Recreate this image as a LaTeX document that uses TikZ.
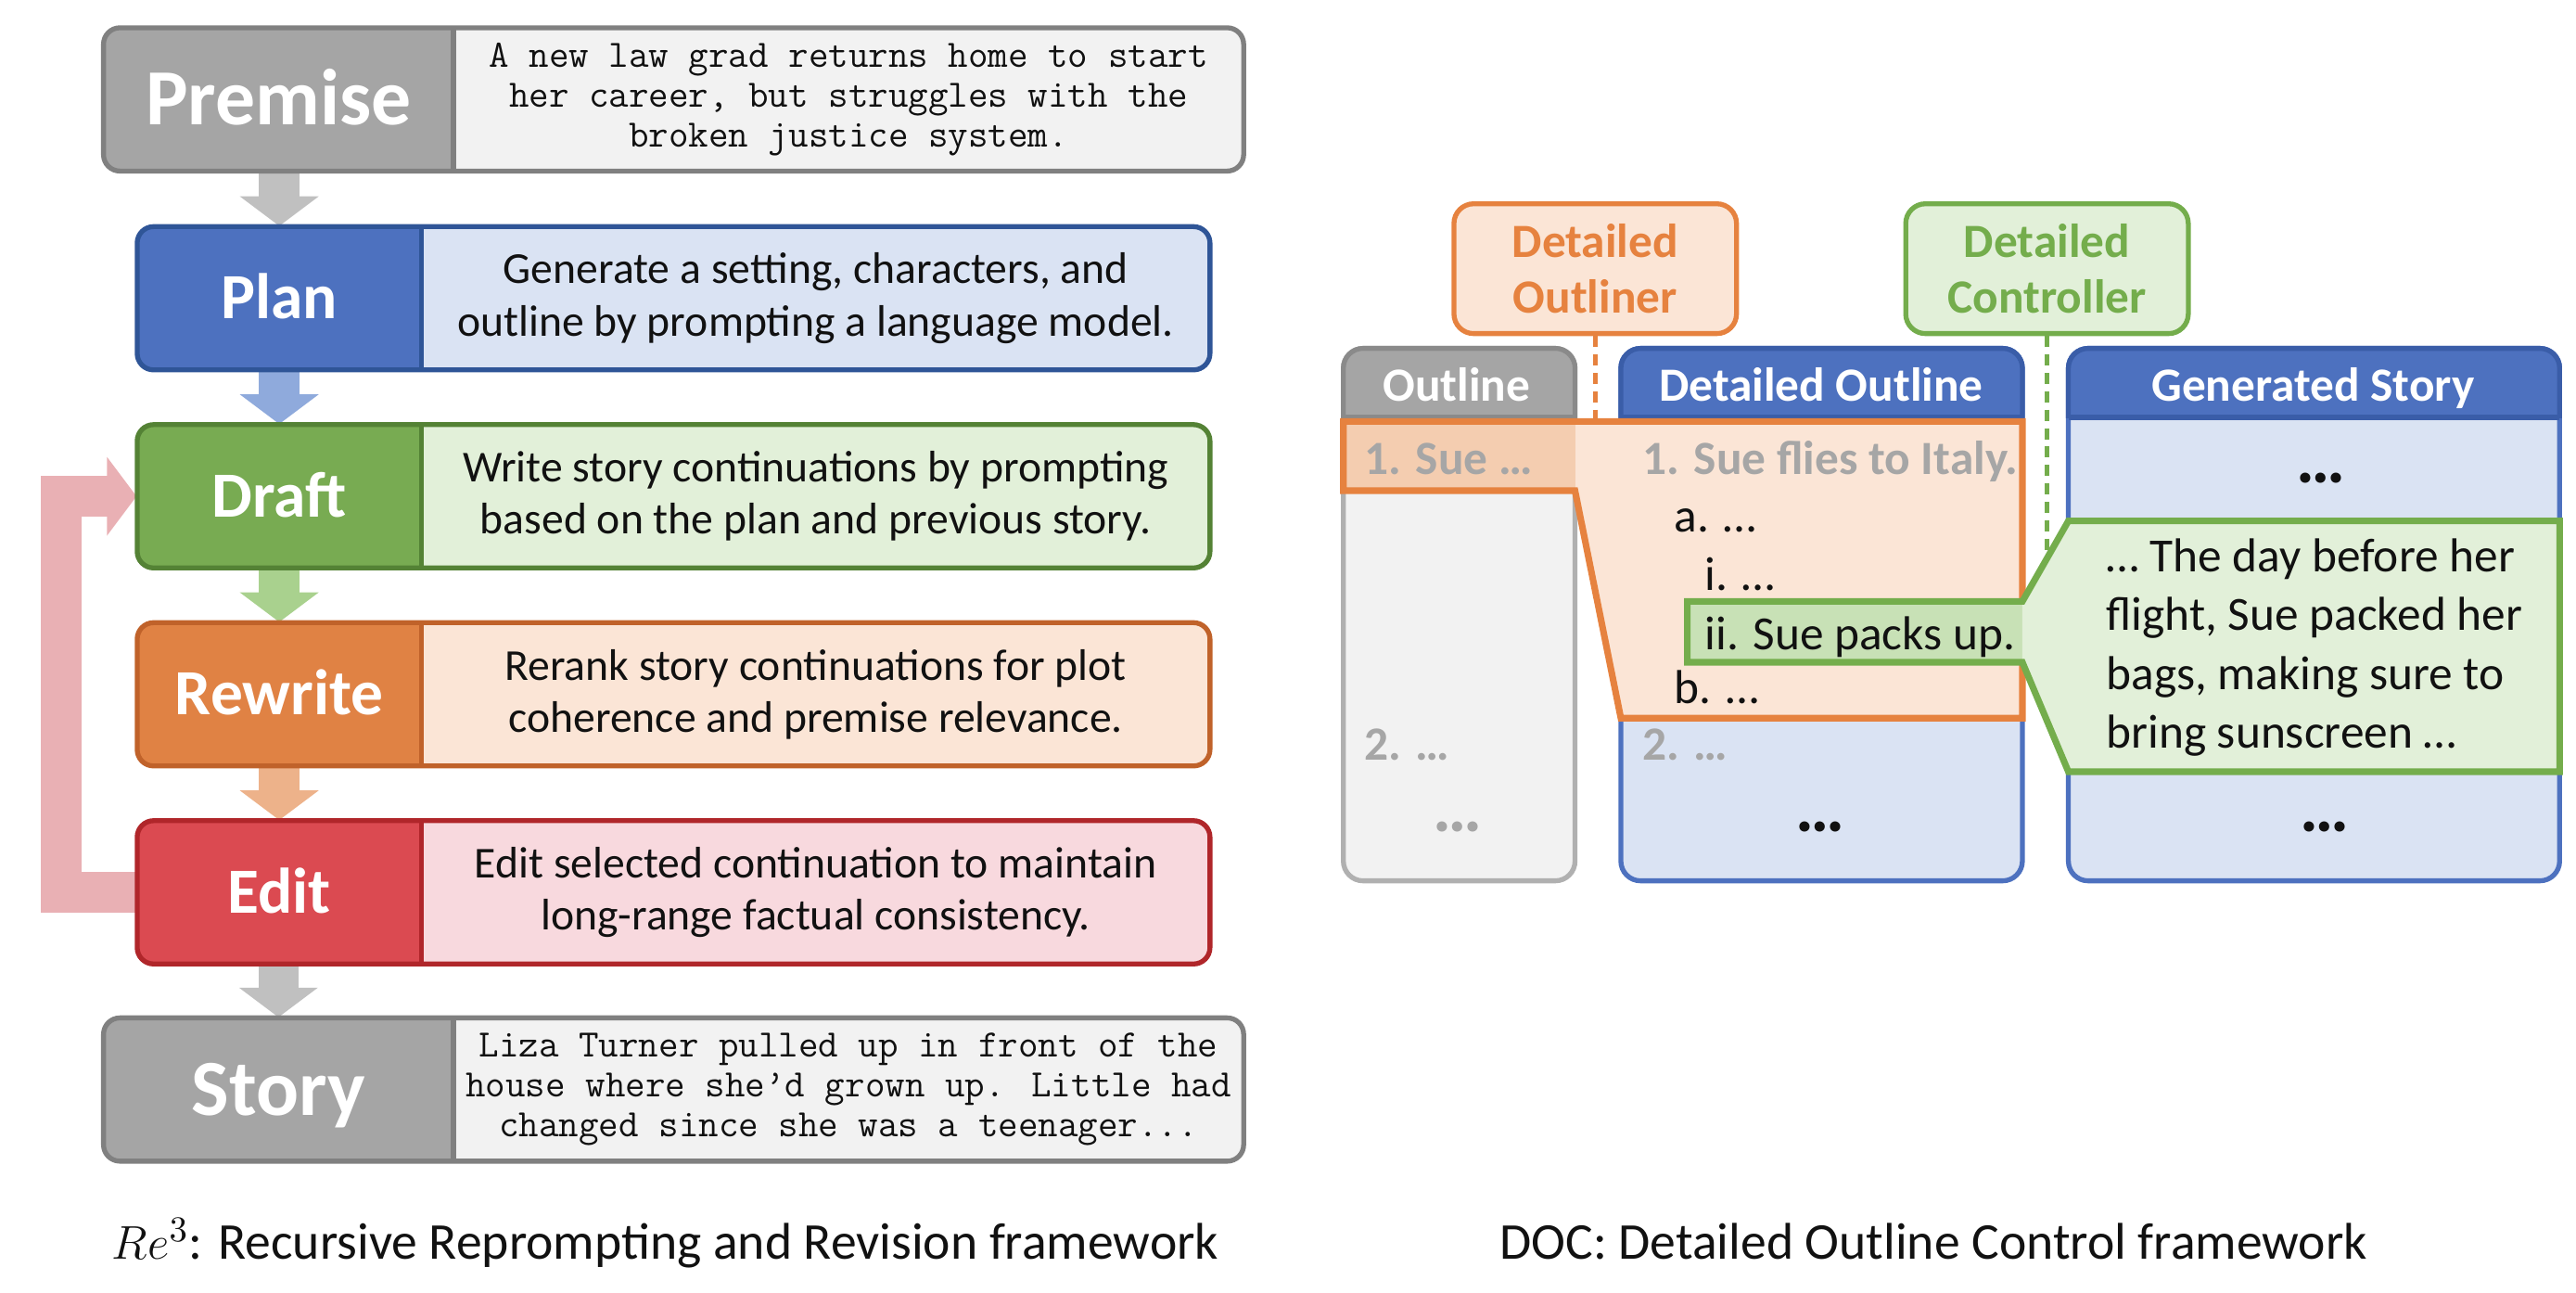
\documentclass[tikz,border=0pt]{standalone}
\usepackage{fontspec}
\setmainfont{Carlito}
\usetikzlibrary{backgrounds}

\definecolor{gLab}{HTML}{A5A5A5}
\definecolor{gFill}{HTML}{F2F2F2}
\definecolor{gBdr}{HTML}{808080}
\definecolor{bLab}{HTML}{4D71BF}
\definecolor{bFill}{HTML}{DAE3F3}
\definecolor{bBdr}{HTML}{2F5597}
\definecolor{dLab}{HTML}{78AB52}
\definecolor{dFill}{HTML}{E2F0D9}
\definecolor{dBdr}{HTML}{548235}
\definecolor{rLab}{HTML}{E08244}
\definecolor{rFill}{HTML}{FBE5D6}
\definecolor{rBdr}{HTML}{C0622A}
\definecolor{eLab}{HTML}{DB4A51}
\definecolor{eFill}{HTML}{F8D9DE}
\definecolor{eBdr}{HTML}{B0262A}
\definecolor{gArr}{HTML}{C0C0C0}
\definecolor{bArr}{HTML}{8FAADC}
\definecolor{dArr}{HTML}{A9D18E}
\definecolor{rArr}{HTML}{EDB28A}
\definecolor{pArr}{HTML}{E9B0B4}
\definecolor{oBdr}{HTML}{E6823F}
\definecolor{oDark}{HTML}{F4CDB0}
\definecolor{grn}{HTML}{74AD4C}
\definecolor{gHi}{HTML}{C8E1B6}
\definecolor{colBdrG}{HTML}{B0B0B0}
\definecolor{hdrBdrG}{HTML}{8A8A8A}
\definecolor{colBdrB}{HTML}{4D71BF}
\definecolor{hdrBdrB}{HTML}{3A5DA8}
\definecolor{gTxt}{HTML}{A6A6A6}
\definecolor{txt}{HTML}{111111}

\tikzset{
  lw/.style={line width=1.5pt},
  biglbl/.style={text=white, font=\fontsize{24.2}{28}\selectfont\bfseries, text height=15.6pt, text depth=0pt},
  smalllbl/.style={text=white, font=\fontsize{19.6}{23}\selectfont\bfseries, text height=12.6pt, text depth=0pt},
  bigdesc/.style={align=center, text=txt, font=\ttfamily\fontsize{11.8}{12.1}\selectfont},
  smalldesc/.style={align=center, text=txt, font=\fontsize{13.45}{15.9}\selectfont},
  outbox/.style={rectangle, rounded corners=6pt, line width=1.5pt, minimum width=86pt,
    minimum height=39.5pt, inner sep=0pt, align=center, font=\fontsize{14.5}{17.2}\selectfont\bfseries},
  rtxt/.style={font=\fontsize{14.5}{17.8}\selectfont, anchor=base west, inner sep=0pt, text=txt},
  gtxtb/.style={text=gTxt, font=\fontsize{14.5}{17.8}\selectfont\bfseries},
  dotstxt/.style={font=\fontsize{21}{22}\selectfont\bfseries, inner sep=0pt, anchor=center, text=txt},
  hdrtxt/.style={font=\fontsize{14.5}{17}\selectfont\bfseries, text=white, anchor=base, inner sep=0pt},
  captxt/.style={font=\fontsize{15.7}{18}\selectfont, anchor=base, inner sep=0pt, text=txt},
}

% #1 name, #2 centre y, #3 left x, #4 divider x, #5 right x, #6 colour prefix,
% #7 size style prefix, #8 label, #9 description
\newcommand\flowstep[9]{%
  \coordinate (#1-tl) at (#3,#2-43.6);
  \coordinate (#1-bd) at (#4,#2+43.6);
  \coordinate (#1-td) at (#4,#2-43.6);
  \coordinate (#1-br) at (#5,#2+43.6);
  \fill[#6Fill, rounded corners=5pt] (#1-tl) rectangle (#1-br);
  \begin{scope}
    \clip[rounded corners=5pt] (#1-tl) rectangle (#1-br);
    \fill[#6Lab] (#1-tl) rectangle (#1-bd);
  \end{scope}
  \draw[#6Bdr, lw] (#1-td) -- (#1-bd);
  \draw[#6Bdr, lw, rounded corners=5pt] (#1-tl) rectangle (#1-br);
  \node[#7lbl, inner sep=0pt, minimum width={(#4-#3)*0.5pt}, minimum height=43.6pt]
    (#1) at ({(#3+#4)/2},#2) {#8};
  \node[#7desc, inner sep=0pt, minimum width={(#5-#4)*0.5pt}, minimum height=43.6pt]
    (#1txt) at ({(#4+#5)/2},#2) {#9};
}

\newcommand\blockarrow[3]{%
  \fill[#3] ([xshift=-6.15pt]#1.south) rectangle ([xshift=6.15pt,yshift=8.6pt]#2.north);
  \fill[#3] ([xshift=-12pt,yshift=9pt]#2.north) -- ([xshift=12pt,yshift=9pt]#2.north) -- (#2.north) -- cycle;
}

\newcommand\colbox[6]{%
  \fill[#3, rounded corners=6pt] (#1,212) rectangle (#2,536);
  \begin{scope}
    \clip[rounded corners=6pt] (#1,212) rectangle (#2,536);
    \fill[#5] (#1,212) rectangle (#2,254);
  \end{scope}
  \draw[#4, lw, rounded corners=6pt] (#1,212) rectangle (#2,536);
  \begin{scope}
    \clip (#1-5,205) rectangle (#2+5,254);
    \draw[#6, lw, rounded corners=6pt] (#1,212) rectangle (#2,536);
  \end{scope}
  \draw[#6, lw] (#1,254) -- (#2,254);
}

\begin{document}
\begin{tikzpicture}[x=0.5pt, y=-0.5pt]
\useasboundingbox (0,0) rectangle (1568,786.8);

% ---------------- left: Re3 flow ----------------
\flowstep{premise}{60.5}{63}{276}{757}{g}{big}{Premise}{A new law grad returns home to start\\her career, but struggles with the\\broken justice system.}
\flowstep{plan}{181.5}{83.5}{256.5}{736.5}{b}{small}{Plan}{Generate a setting, characters, and\\outline by prompting a language model.}
\flowstep{draft}{302}{83.5}{256.5}{736.5}{d}{small}{Draft}{Write story continuations by prompting\\based on the plan and previous story.}
\flowstep{rewrite}{422.5}{83.5}{256.5}{736.5}{r}{small}{Rewrite}{Rerank story continuations for plot\\coherence and premise relevance.}
\flowstep{edit}{543}{83.5}{256.5}{736.5}{e}{small}{Edit}{Edit selected continuation to maintain\\long-range factual consistency.}
\flowstep{story}{663}{63}{276}{757}{g}{big}{Story}{Liza Turner pulled up in front of the\\house where she’d grown up. Little had\\changed since she was a teenager...}

\begin{scope}[on background layer]
  \blockarrow{premise}{plan}{gArr}
  \blockarrow{plan}{draft}{bArr}
  \blockarrow{draft}{rewrite}{dArr}
  \blockarrow{rewrite}{edit}{rArr}
  \blockarrow{edit}{story}{gArr}
  \draw[pArr, line width=12.3pt] (edit.west) -- ++(-46,0) |- ([xshift=-8.6pt]draft.west);
  \fill[pArr] ([xshift=-9pt,yshift=12pt]draft.west) -- ([xshift=-9pt,yshift=-12pt]draft.west) -- (draft.west) -- cycle;
\end{scope}

\node[captxt] (capL) at (405,766) {$Re^3$: Recursive Reprompting and Revision framework};

% ---------------- right: DOC ----------------
\node[outbox, draw=oBdr, fill=rFill, text=oBdr] (outliner) at (971,163.5) {Detailed\\Outliner};
\node[outbox, draw=grn, fill=dFill, text=grn] (controller) at (1246,163.5) {Detailed\\Controller};

\coordinate (odash) at (971,255);
\coordinate (gdash) at (1246,341);
\draw[oBdr, lw, dash pattern=on 3.4pt off 2.2pt] (outliner.south) -- (odash);
\draw[grn, lw, dash pattern=on 3.4pt off 2.2pt] (controller.south) -- (gdash);

\colbox{817.7}{958.7}{gFill}{colBdrG}{gLab}{hdrBdrG}
\colbox{986.6}{1231}{bFill}{colBdrB}{bLab}{hdrBdrB}
\colbox{1259}{1558}{bFill}{colBdrB}{bLab}{hdrBdrB}

% orange highlight
\fill[rFill] (817.7,256.5) -- (1231,256.5) -- (1231,437) -- (986.6,437) -- (958.7,298.6) -- (817.7,298.6) -- cycle;
\fill[oDark] (817.7,256.5) rectangle (958.7,298.6);
\draw[oBdr, line width=2pt] (817.7,256.5) -- (1231,256.5) -- (1231,437) -- (986.6,437) -- (958.7,298.6) -- (817.7,298.6) -- cycle;

% green highlight and callout
\fill[gHi] (1027,366) rectangle (1231,403);
\fill[dFill] (1231,366) -- (1259,317) -- (1558,317) -- (1558,469.6) -- (1259,469.6) -- (1231,403) -- cycle;
\draw[grn, line width=2pt] (1231,366) -- (1027,366) -- (1027,403) -- (1231,403) -- (1259,469.6) -- (1558,469.6) -- (1558,317) -- (1259,317) -- cycle;

% headers
\node[hdrtxt] (outlineHdr) at (886.7,244.2) {Outline};
\node[hdrtxt] (detHdr) at (1108.5,244.2) {Detailed Outline};
\node[hdrtxt] (genHdr) at (1408,244.2) {Generated Story};

% outline column texts
\node[rtxt, gtxtb] (o1) at (830.3,288.8) {1. Sue …};
\node[rtxt, gtxtb] (o2) at (830.3,462.8) {2. …};
\node[dotstxt, text=gTxt] (o3) at (887,503) {…};

% detailed outline texts
\node[rtxt, gtxtb] (d1) at (999.6,288.8) {1. Sue flies to Italy.};
\node[rtxt] (da) at (1018.8,323.6) {a. …};
\node[rtxt] (di) at (1037.4,359.4) {i. …};
\node[rtxt] (dii) at (1037.4,395.1) {ii. Sue packs up.};
\node[rtxt] (db) at (1018.8,428) {b. …};
\node[rtxt, gtxtb] (d2) at (999.6,462.8) {2. …};
\node[dotstxt] (d3) at (1108,503) {…};

% generated story texts
\node[dotstxt] (s1) at (1413,290.7) {…};
\node[rtxt, anchor=west, align=left] (s2) at (1281.7,394) {… The day before her\\flight, Sue packed her\\bags, making sure to\\bring sunscreen …};
\node[dotstxt] (s3) at (1415,503) {…};

\node[captxt] (capR) at (1177,766) {DOC: Detailed Outline Control framework};
\end{tikzpicture}
\end{document}
